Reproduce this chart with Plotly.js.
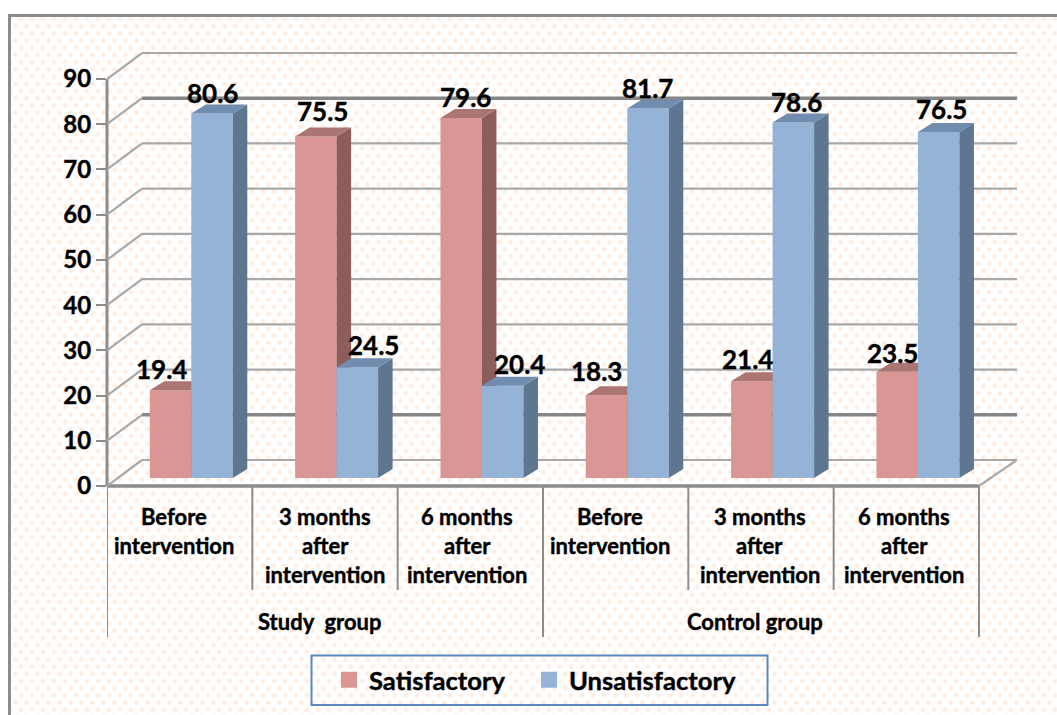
<!DOCTYPE html>
<html>
<head>
<meta charset="utf-8">
<script src="https://cdn.plot.ly/plotly-3.0.1.min.js"></script>
<style>
html,body{margin:0;padding:0;background:#fff;width:1057px;height:715px;overflow:hidden}
#frame{position:absolute;left:8px;top:14px;right:0;bottom:0;border-left:3px solid #8c8c8c;border-top:3px solid #8c8c8c;
background-color:#fff;
background-image:radial-gradient(circle,#fdebdf 0,#fdebdf 1px,rgba(253,235,223,0) 3.2px),radial-gradient(circle,#fdebdf 0,#fdebdf 1px,rgba(253,235,223,0) 3.2px);
background-size:11px 14.4px;background-position:10px 2px,15.5px 9.2px}
#chart{position:absolute;left:0;top:0;width:1057px;height:715px}
#chart svg text{stroke:#000;stroke-width:.4px}
</style>
</head>
<body>
<div id="frame"></div>
<div id="chart"></div>
<script>
const categoryLines = [
  ["Before","intervention"],
  ["3 months","after","intervention"],
  ["6 months","after","intervention"],
  ["Before","intervention"],
  ["3 months","after","intervention"],
  ["6 months","after","intervention"]
];
const groups = ["Study  group","Control group"];
const satisfactory = [19.4,75.5,79.6,18.3,21.4,23.5];
const unsatisfactory = [80.6,24.5,20.4,81.7,78.6,76.5];
const valueTicks = [0,10,20,30,40,50,60,70,80,90];

// page geometry of the pseudo-3D box
const W=1057,H=715,L=107,R=1017,T=40,B=486;
const catPx=145.33, valPx=4.522;
const u=p=>p/catPx, v=p=>p/valPx;
const xMax=u(R-L), yMax=v(B-T);
const wallDx=u(35), wallDy=v(26);
const barBase=v(8), barW=u(41.5), barDx=u(14.5), barDy=v(9), groupMid=0.58;
const gridColor="#a8a8a8", gridHeavy="#868686";
const font="Lato, Carlito, 'Open Sans', sans-serif";
const px=x=>(x-L)/(R-L), py=y=>(B-y)/(B-T);

function faces(values,left,kind){
  const xs=[],ys=[];
  values.forEach((val,i)=>{
    const x0=i+left, x1=x0+barW, top=val+barBase;
    if(kind==="side"){
      xs.push(x1,x1+barDx,x1+barDx,x1,x1,null);
      ys.push(barBase,barBase+barDy,top+barDy,top,barBase,null);
    }else{
      xs.push(x0,x1,x1+barDx,x0+barDx,x0,null);
      ys.push(top,top,top+barDy,top+barDy,top,null);
    }
  });
  return {x:xs,y:ys};
}
function face(values,left,kind,color,axes){
  const f=faces(values,left,kind);
  return Object.assign({type:"scatter",mode:"lines",x:f.x,y:f.y,fill:"toself",fillcolor:color,
    line:{width:0,color:color},showlegend:false,hoverinfo:"skip"},axes);
}
function bars(name,values,left,color,axes){
  return Object.assign({type:"bar",name:name,x:values.map((_,i)=>i+left+barW/2),y:values,
    base:values.map(()=>barBase),width:barW,marker:{color:color,line:{width:0}},showlegend:false},axes);
}
function legendEntry(name,color,legendId){
  return {type:"scatter",mode:"markers",name:name,x:[null],y:[null],legend:legendId,marker:{symbol:"square",size:16,color:color,line:{width:0}},showlegend:true};
}
const ax1={xaxis:"x",yaxis:"y"}, ax2={xaxis:"x2",yaxis:"y2"};
const redLeft=groupMid-barW, blueLeft=groupMid;
const traces=[
  bars("Satisfactory",satisfactory,redLeft,"#d99694",ax1),
  face(satisfactory,redLeft,"side","#8c5d5b",ax1),
  face(satisfactory,redLeft,"top","#ab7573",ax1),
  bars("Unsatisfactory",unsatisfactory,blueLeft,"#95b3d7",ax2),
  face(unsatisfactory,blueLeft,"side","#5f7690",ax2),
  face(unsatisfactory,blueLeft,"top","#708cae",ax2),
  legendEntry("Satisfactory","#d99694","legend"),
  legendEntry("Unsatisfactory","#95b3d7","legend2")
];

const shapes=[];
const line=(x0,y0,x1,y1,color,width,xref,yref)=>shapes.push({type:"line",layer:"below",xref:xref||"x",yref:yref||"y",x0,y0,x1,y1,line:{color,width}});
valueTicks.forEach(t=>{
  const heavy=(t===80||t===10);
  const c=heavy?gridHeavy:gridColor, w=heavy?3.5:2.2;
  if(t>0) line(wallDx,t+wallDy,xMax,t+wallDy,c,w);
  line(0,t,wallDx,t+wallDy,gridColor,2.2);
});
line(wallDx,wallDy,xMax,wallDy,gridColor,2.2);
line(categoryLines.length,0,xMax,wallDy,gridColor,2.2);
// value axis and floor edge
line(0,0,0,valueTicks[valueTicks.length-1],"#8c8c8c",3,"paper","y");
line(0,py(B),categoryLines.length,py(B),"#8c8c8c",3.4,"x","paper");
// category separators
categoryLines.forEach((_,i)=>{ if(i%3) line(i,py(B),i,py(590),"#8c8c8c",2,"x","paper"); });
[0,3,6].forEach(i=>line(i,py(B),i,py(637),"#8c8c8c",2,"x","paper"));
// legend box
shapes.push({type:"rect",layer:"below",xref:"paper",yref:"paper",x0:px(311.5),x1:px(767.5),y0:py(655.5),y1:py(705),line:{color:"#5a88bf",width:2}});

const annotations=[];
const note=(o)=>annotations.push(Object.assign({showarrow:false,xanchor:"center",yanchor:"middle"},o));
const catShift=[-6,0,-3,-6,-1,-2];
categoryLines.forEach((lines,i)=>lines.forEach((text,k)=>{
  note({xref:"x",yref:"paper",x:i+0.5,xshift:catShift[i],y:py(516+29*k),text:text,font:{family:font,size:22,color:"#000",weight:700}});
}));
groups.forEach((g,i)=>note({xref:"x",yref:"paper",x:1.5+3*i,xshift:-6,y:py(621),text:g.replace("  ","&nbsp; "),font:{family:font,size:22,color:"#000",weight:700}}));
const labelShiftX=[[-9,7,4,-10,-4,-5],[0,16,17,-1,3,3]];
const labelShiftY=[[21,26,21,24,22,19],[21,22,22,21,21,23]];
[satisfactory,unsatisfactory].forEach((series,s)=>series.forEach((val,i)=>{
  note({xref:"x",yref:"y",x:i+(s?blueLeft:redLeft)+barW/2,y:val+barBase,xshift:labelShiftX[s][i],yshift:labelShiftY[s][i],
    text:val.toFixed(1),font:{family:font,size:26,color:"#000",weight:700}});
}));

const legendStyle=(x)=>({orientation:"h",x:px(x),xanchor:"left",y:py(680),yanchor:"middle",
  font:{family:font,size:25.6,color:"#000",weight:700},
  bgcolor:"rgba(0,0,0,0)",borderwidth:0,itemclick:false,itemdoubleclick:false});
const layout={
  width:W,height:H,autosize:false,
  margin:{l:L,r:W-R,t:T,b:H-B,pad:0,autoexpand:false},
  paper_bgcolor:"rgba(0,0,0,0)",plot_bgcolor:"rgba(0,0,0,0)",
  hovermode:false,
  xaxis:{range:[0,xMax],showgrid:false,zeroline:false,showline:false,ticks:"",showticklabels:false,fixedrange:true},
  yaxis:{range:[0,yMax],tickvals:valueTicks,ticktext:valueTicks.map(String),showgrid:false,zeroline:false,showline:false,
    ticks:"outside",ticklen:10,tickwidth:2,tickcolor:"#8c8c8c",ticklabelstandoff:0,
    tickfont:{family:font,size:24,color:"#000",weight:700},fixedrange:true},
  xaxis2:{overlaying:"x",matches:"x",visible:false,range:[0,xMax],fixedrange:true},
  yaxis2:{overlaying:"y",matches:"y",visible:false,range:[0,yMax],fixedrange:true},
  legend:legendStyle(329),
  legend2:legendStyle(529),
  shapes:shapes,annotations:annotations,showlegend:true
};
Plotly.newPlot("chart",traces,layout,{staticPlot:true,displayModeBar:false});
</script>
</body>
</html>
